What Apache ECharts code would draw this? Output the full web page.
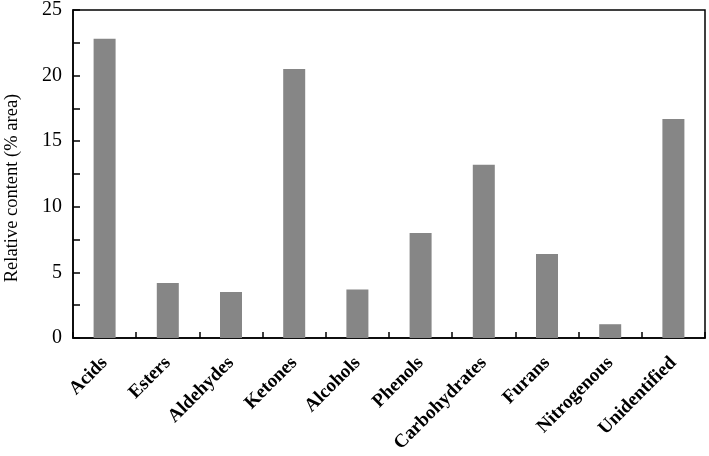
<!DOCTYPE html>
<html>
<head>
<meta charset="utf-8">
<script src="https://cdn.jsdelivr.net/npm/echarts@6/dist/echarts.min.js"></script>
<style>
  html, body { margin: 0; padding: 0; background: #fff; }
  #chart { width: 709px; height: 456px; }
</style>
</head>
<body>
<div id="chart"></div>
<script>
// categories and values
const categories = ["Acids", "Esters", "Aldehydes", "Ketones", "Alcohols", "Phenols", "Carbohydrates", "Furans", "Nitrogenous", "Unidentified"];
const relContent = [22.8, 4.2, 3.5, 20.5, 3.7, 8.0, 13.2, 6.4, 1.05, 16.7];

const serif = "Liberation Serif";

let myChart = echarts.init(document.getElementById("chart"));
let options = {
  backgroundColor: "#fff",
  animation: false,
  grid: {
    left: 73,
    right: 4,
    top: 10,
    bottom: 118,
    outerBoundsMode: "none",
    containLabel: false,
    show: true,
    borderColor: "#000",
    borderWidth: 1.5,
  },
  xAxis: {
    type: "category",
    data: categories,
    axisLine: { lineStyle: { color: "#000", width: 1.5 } },
    axisTick: { show: true, inside: true, length: 6, lineStyle: { color: "#000", width: 1.5 } },
    axisLabel: {
      rotate: 45,
      margin: 22,
      color: "#000",
      fontFamily: serif,
      fontWeight: "bold",
      fontSize: 19,
    },
  },
  yAxis: {
    type: "value",
    min: 0,
    max: 25,
    interval: 2.5,
    name: "Relative content (% area)",
    nameLocation: "middle",
    nameGap: 51,
    nameTextStyle: { color: "#000", fontFamily: serif, fontSize: 18.5, padding: [0, 28, 0, 0] },
    axisLine: { show: true, lineStyle: { color: "#000", width: 1.5 } },
    axisTick: { show: true, inside: true, length: 7, lineStyle: { color: "#000", width: 1.5 } },
    splitLine: { show: false },
    axisLabel: {
      color: "#000",
      fontFamily: serif,
      fontSize: 20,
      margin: 11,
      formatter: function (value) {
        return value % 5 === 0 ? String(value) : "";
      },
    },
  },
  series: [
    {
      type: "bar",
      data: relContent,
      barWidth: 22,
      itemStyle: { color: "#868686" },
    },
  ],
};
myChart.setOption(options, true);
</script>
</body>
</html>
